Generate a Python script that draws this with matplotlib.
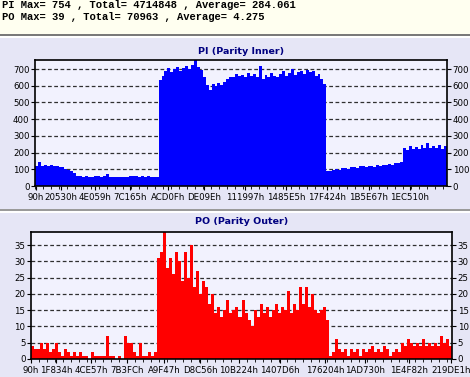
import matplotlib
matplotlib.use("Agg")
import matplotlib.pyplot as plt
from matplotlib.patches import Rectangle
from matplotlib.ticker import MultipleLocator
import numpy as np

# ---------------- data ----------------
header_lines = [
    "PI Max= 754 , Total= 4714848 , Average= 284.061",
    "PO Max= 39 , Total= 70963 , Average= 4.275",
]

pi_title = "PI (Parity Inner)"
po_title = "PO (Parity Outer)"

pi_values = [
    118, 145, 122, 128, 120, 125, 118, 122, 112, 115, 104, 98, 92, 80, 62,
    58, 55, 60, 56, 54, 58, 57, 55, 60, 70, 54, 56, 52, 55, 54, 56, 54, 57,
    58, 60, 56, 58, 55, 57, 54, 56, 52,
    635, 660, 690, 705, 680, 700, 710, 690, 705, 720,
    700, 725, 754, 715, 695, 650, 605, 575, 610, 600,
    615, 605, 625, 640, 655, 650, 670, 660, 665, 655,
    675, 660, 670, 650, 720, 640, 665, 655, 675, 660,
    650, 668, 690, 660, 675, 700, 665, 680, 690, 670,
    695, 680, 690, 660, 670, 640, 610,
    90, 92, 98, 100, 96, 105, 110, 104, 112, 115, 108, 118, 120, 112, 118,
    122, 115, 125, 120, 128, 125, 132, 128, 138, 135, 145,
    230, 215, 240, 222, 235, 220, 245, 230, 258, 225, 240, 228, 245, 222, 238,
]

po_values = [
    4, 3, 3, 5, 3, 5, 2, 3, 5,
    2, 1, 3, 2, 1, 2, 1, 2,
    1, 1, 0, 2, 1, 1,
    1, 1, 7, 1, 1, 0, 1, 0,
    7, 5, 5, 2, 1, 5, 1, 1, 2, 1, 2,
    31, 33, 39, 28, 31, 26, 33, 30, 24, 33,
    25, 35, 22, 27, 20, 24, 22, 17, 20, 14,
    16, 13, 15, 18, 14, 15, 16, 13, 18, 14,
    12, 10, 15, 13, 17, 14, 16, 13, 15, 17,
    14, 16, 15, 21, 14, 17, 15, 22, 17, 22,
    16, 20, 15, 14, 15, 16, 12,
    1, 2, 6, 3, 2, 3, 1, 3, 2, 3, 1, 3, 2, 3, 4, 2, 3, 2, 4, 3, 1, 2, 3, 2,
    5, 4, 6, 5, 4, 5, 4, 6, 4, 5, 4, 5, 4, 7, 5, 6, 4,
]

pi_xlabels = ["90h", "20530h", "4E059h", "7C165h", "ACD0Fh", "DE09Eh",
              "111997h", "1485E5h", "17F424h", "1B5E67h", "1EC510h"]
po_xlabels = ["90h", "1F834h", "4CE57h", "7B3FCh", "A9F47h", "D8C56h",
              "10B224h", "1407D6h", "176204h", "1AD730h", "1E4F82h", "219DE1h"]

pi_yticks = [0, 100, 200, 300, 400, 500, 600, 700]
po_yticks = [0, 5, 10, 15, 20, 25, 30, 35]
pi_ymax = 754
po_ymax = 39

# ---------------- layout ----------------
W, H = 470, 377
PANEL = "#E6E6F6"
PLOT_BG = "#F2F2FE"
IVORY = "#FFFFF0"

fig = plt.figure(figsize=(W / 100, H / 100), dpi=100)
fig.patch.set_facecolor(PANEL)


def px_rect(x0, y0, x1, y1, color):
    fig.patches.append(Rectangle((x0 / W, 1 - y1 / H), (x1 - x0) / W, (y1 - y0) / H,
                                 transform=fig.transFigure, facecolor=color,
                                 edgecolor="none", zorder=0))


px_rect(0, 0, W, 34, IVORY)
px_rect(0, 34, W, 36, "#7A7A7A")
px_rect(0, 36, W, 38, "#FFFFFF")
px_rect(0, 209, W, 211, "#9A9A9A")
px_rect(0, 211, W, 213, "#FFFFFF")

fig.text(2 / W, 1 - 5.5 / H, header_lines[0], family="Liberation Mono", fontsize=7.6,
         fontweight="bold", va="center", ha="left", color="#000000")
fig.text(2 / W, 1 - 16.5 / H, header_lines[1], family="Liberation Mono", fontsize=7.6,
         fontweight="bold", va="center", ha="left", color="#000000")


def setup(ax, values, color, ymax, yticks, xlabels, label_px, ax_left_px, ax_w_px):
    n = len(values)
    x = np.arange(n)
    ax.set_facecolor(PLOT_BG)
    ax.bar(x, values, width=1.0, align="edge", color=color, edgecolor="none",
           linewidth=0, antialiased=False, zorder=2)
    ax.set_xlim(0, n)
    ax.set_ylim(0, ymax)
    ax.set_yticks(yticks)
    ax.yaxis.grid(True, linestyle=(0, (3, 2)), color="#303030", linewidth=0.9)
    ax.set_axisbelow(True)
    pos = [(p - ax_left_px) / ax_w_px * n for p in label_px]
    ax.set_xticks(pos)
    ax.set_xticklabels(xlabels)
    ax.xaxis.set_minor_locator(MultipleLocator(n * 8.0 / ax_w_px))
    ax.tick_params(axis="y", left=True, right=True, labelleft=True, labelright=True,
                   direction="out", length=3, width=0.8, labelsize=6.2, pad=1)
    ax.tick_params(axis="x", which="major", direction="out", length=3, width=0.8,
                   labelsize=6.2, pad=2)
    ax.tick_params(axis="x", which="minor", direction="out", length=2, width=0.6)
    for s in ax.spines.values():
        s.set_linewidth(1.2)
        s.set_color("black")


ax1 = fig.add_axes([35 / W, 1 - 186 / H, 412 / W, 126 / H])
setup(ax1, pi_values, "#0000FF", pi_ymax, pi_yticks, pi_xlabels,
      [36, 61, 95, 130, 168, 204, 245, 286, 327, 369, 410], 35, 412)

ax2 = fig.add_axes([31 / W, 1 - 359 / H, 421 / W, 127 / H])
setup(ax2, po_values, "#FF0000", po_ymax, po_yticks, po_xlabels,
      [31, 56, 91, 127, 164, 200, 239, 280, 325, 365, 409, 451], 31, 421)

fig.text(241 / W, 1 - 51 / H, pi_title, ha="center", va="center", fontsize=6.8,
         fontweight="bold", color="#000080")
fig.text(241.5 / W, 1 - 222 / H, po_title, ha="center", va="center", fontsize=6.8,
         fontweight="bold", color="#000080")

fig.savefig("out.png", dpi=100, facecolor=fig.get_facecolor())
